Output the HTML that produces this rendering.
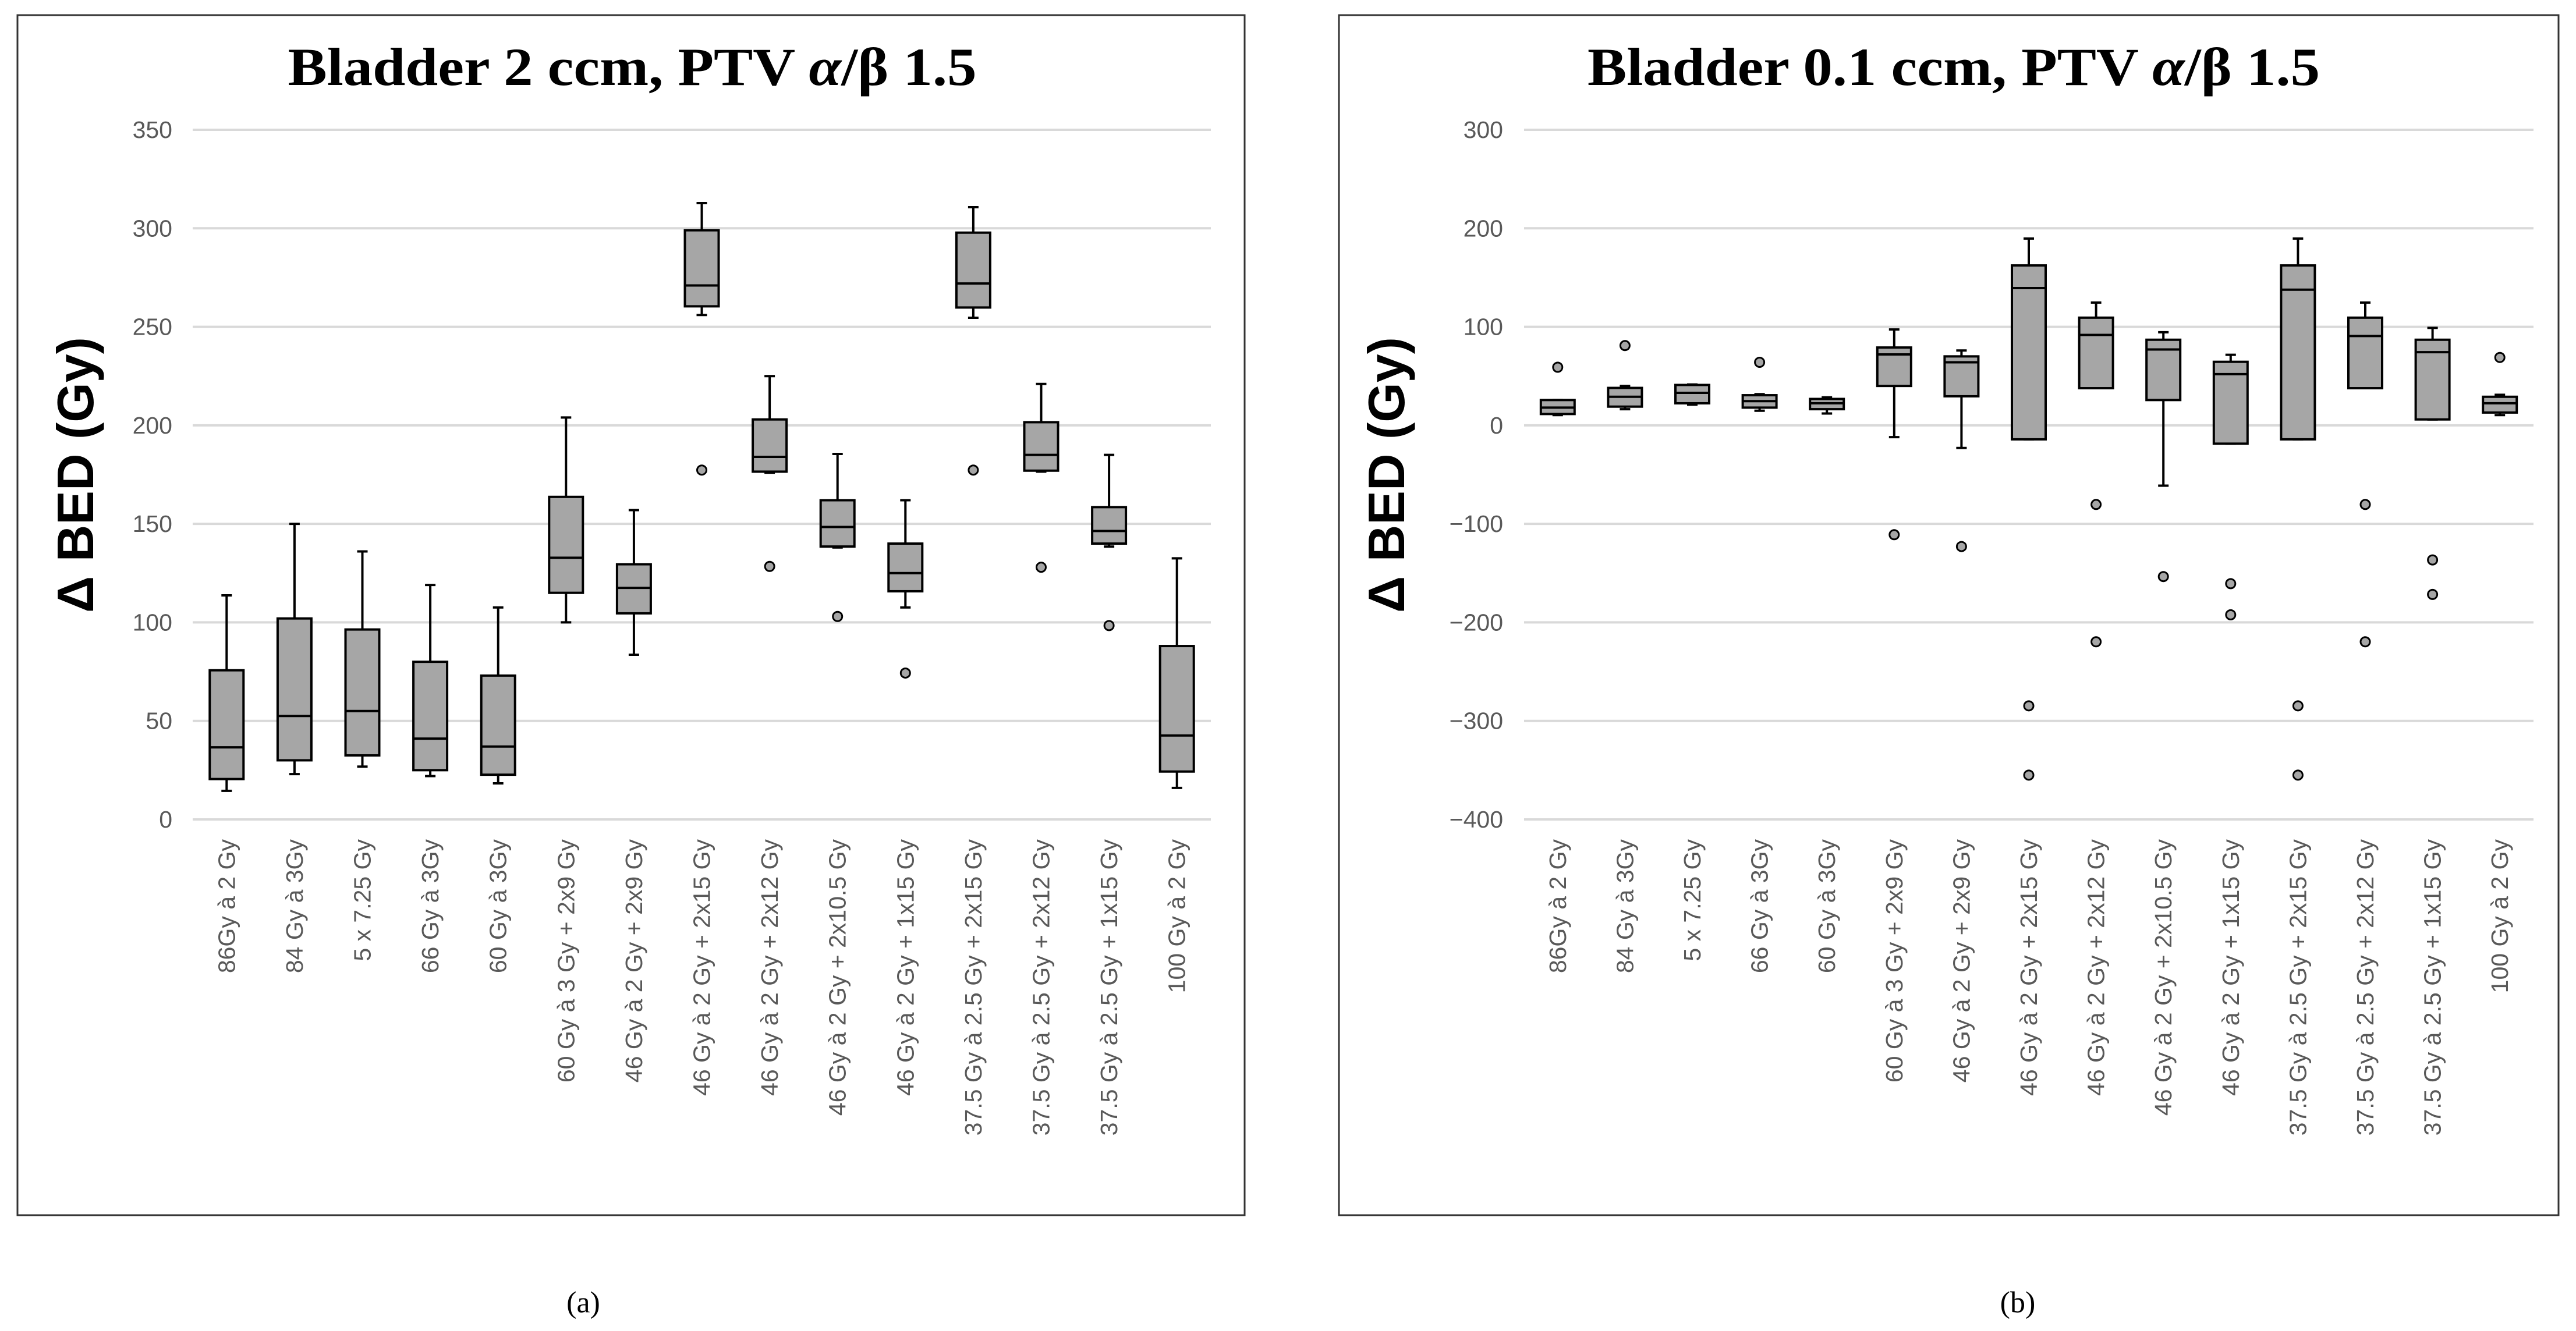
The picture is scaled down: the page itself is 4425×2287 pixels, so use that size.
<!DOCTYPE html>
<html><head><meta charset="utf-8"><style>
html,body{margin:0;padding:0;background:#fff;}
svg{display:block;}
</style></head><body>
<svg id="fig" width="4425" height="2287" xmlns="http://www.w3.org/2000/svg">
<rect x="30" y="26" width="2108" height="2062" fill="#fff" stroke="#333" stroke-width="3"/>
<rect x="2300" y="26" width="2095" height="2062" fill="#fff" stroke="#333" stroke-width="3"/>
<text x="1086" y="146" text-anchor="middle" font-family="Liberation Serif, serif" font-weight="bold" font-size="92" textLength="1183" lengthAdjust="spacingAndGlyphs">Bladder 2 ccm, PTV <tspan font-style="italic">α</tspan>/β 1.5</text>
<text x="3356" y="146" text-anchor="middle" font-family="Liberation Serif, serif" font-weight="bold" font-size="92" textLength="1258" lengthAdjust="spacingAndGlyphs">Bladder 0.1 ccm, PTV <tspan font-style="italic">α</tspan>/β 1.5</text>
<text transform="translate(160,816) rotate(-90)" text-anchor="middle" font-family="Liberation Sans, sans-serif" font-weight="bold" font-size="88">Δ BED (Gy)</text>
<text transform="translate(2412,816) rotate(-90)" text-anchor="middle" font-family="Liberation Sans, sans-serif" font-weight="bold" font-size="88">Δ BED (Gy)</text>
<text x="1002" y="2255" text-anchor="middle" font-family="Liberation Serif, serif" font-size="52">(a)</text>
<text x="3466" y="2255" text-anchor="middle" font-family="Liberation Serif, serif" font-size="52">(b)</text>
<g id="ga"></g><g id="gb"></g>
</svg>
<script>
const categories = ["86Gy à 2 Gy","84 Gy à 3Gy","5 x 7.25 Gy","66 Gy à 3Gy","60 Gy à 3Gy","60 Gy à 3 Gy + 2x9 Gy","46 Gy à 2 Gy + 2x9 Gy","46 Gy à 2 Gy + 2x15 Gy","46 Gy à 2 Gy + 2x12 Gy","46 Gy à 2 Gy + 2x10.5 Gy","46 Gy à 2 Gy + 1x15 Gy","37.5 Gy à 2.5 Gy + 2x15 Gy","37.5 Gy à 2.5 Gy + 2x12 Gy","37.5 Gy à 2.5 Gy + 1x15 Gy","100 Gy à 2 Gy"];
// Chart A (Bladder 2 ccm)
const aMin = [14.5,23,26.8,22,18.3,100,83.6,256,176,138,107.6,254.6,176.5,138.5,16];
const aQ1 = [20.5,30,32.5,25,22.7,115,104.6,260.4,176.5,138.5,115.8,259.8,177,140,24.3];
const aMed = [36.6,52.5,55,41,37,132.8,117.5,271,184,148.4,125,272,185,146.4,42.6];
const aQ3 = [75.7,102,96.4,80,73,163.7,129.5,299,203,162,140,297.8,201.6,158.5,88];
const aMax = [113.7,150,136,119,107.6,204,157,312.8,225,185.5,162,310.7,221,185,132.5];
const aOut = [[],[],[],[],[],[],[],[177.3],[128.4],[103],[74.3],[177.3],[128],[98.4],[]];
const aTicks = [0,50,100,150,200,250,300,350];
// Chart B (Bladder 0.1 ccm)
const bMin = [10.4,16.4,21,14.8,12,-12,-23,-14.2,37.7,-61.2,-18.6,-14.2,37.7,6,10.4];
const bQ1 = [11.5,19,22.4,18,16.4,40,29.5,-14.2,37.7,25.7,-18.6,-14.2,37.7,6,13];
const bMed = [18,29,33,24.6,22.4,72,64,139.3,91.8,77,52,137.7,90.7,74.3,22.4];
const bQ3 = [25.7,38,41,30.6,26.8,79,70,162.3,109.3,86.9,64.5,162.3,109.3,86.9,29];
const bMax = [25.7,40,41.5,31.7,28.4,97.3,76,189.6,124.6,94.5,71.6,189.6,124.6,98.9,31];
const bOut = [[59],[81],[],[64],[],[-111],[-123],[-284.7,-355],[-80.3,-219.7],[-153.5],[-160.7,-192.3],[-284.7,-355],[-80.3,-219.7],[-136.6,-171.6],[68.9]];
const bTicks = [-400,-300,-200,-100,0,100,200,300];

const NS = "http://www.w3.org/2000/svg";
function mk(parent, tag, attrs){const e=document.createElementNS(NS,tag);for(const k in attrs)e.setAttribute(k,attrs[k]);parent.appendChild(e);return e;}

function draw(gid, prefix, x0, x1, yTop, yBot, vMin, vMax, ticks, tickRight, mins, q1s, meds, q3s, maxs, outs){
  const g=document.getElementById(gid);
  const Y=v=>yBot-(v-vMin)/(vMax-vMin)*(yBot-yTop);
  const bw=(x1-x0)/categories.length;
  const X=i=>x0+bw*(i+0.5);
  ticks.forEach(t=>{
    const l=mk(g,'line',{x1:x0,x2:x1,y1:Y(t),y2:Y(t),stroke:'#d9d9d9','stroke-width':4});
    
    
    const tx=mk(g,'text',{x:tickRight,y:Y(t)+14,'text-anchor':'end','font-family':'Liberation Sans, sans-serif','font-size':41,fill:'#595959'});
    tx.textContent=t<0?('\u2212'+Math.abs(t)):String(t);
    
    
  });
  categories.forEach((c,i)=>{
    const cx=X(i), hw=29, cap=9;
    const bg=mk(g,'g',{});
    
    
    mk(bg,'line',{x1:cx,x2:cx,y1:Y(maxs[i]),y2:Y(q3s[i]),stroke:'#000','stroke-width':4});
    mk(bg,'line',{x1:cx,x2:cx,y1:Y(q1s[i]),y2:Y(mins[i]),stroke:'#000','stroke-width':4});
    mk(bg,'line',{x1:cx-cap,x2:cx+cap,y1:Y(maxs[i]),y2:Y(maxs[i]),stroke:'#000','stroke-width':4});
    mk(bg,'line',{x1:cx-cap,x2:cx+cap,y1:Y(mins[i]),y2:Y(mins[i]),stroke:'#000','stroke-width':4});
    mk(bg,'rect',{x:cx-hw,y:Y(q3s[i]),width:hw*2,height:Math.max(1,Y(q1s[i])-Y(q3s[i])),fill:'#a6a6a6',stroke:'#000','stroke-width':4});
    mk(bg,'line',{x1:cx-hw,x2:cx+hw,y1:Y(meds[i]),y2:Y(meds[i]),stroke:'#000','stroke-width':4});
    outs[i].forEach(o=>{
      const c2=mk(g,'circle',{cx:cx,cy:Y(o),r:8,fill:'#a6a6a6',stroke:'#000','stroke-width':3});
      
      
    });
    const lt=mk(g,'text',{transform:'translate('+(cx+14)+',1442) rotate(-90)','text-anchor':'end','font-family':'Liberation Sans, sans-serif','font-size':41,fill:'#595959'});
    lt.textContent=c;
    
    
  });
}
draw('ga','chart-a',331,2080,223,1408,0,350,aTicks,296,aMin,aQ1,aMed,aQ3,aMax,aOut);
draw('gb','chart-b',2618,4352,223,1408,-400,300,bTicks,2582,bMin,bQ1,bMed,bQ3,bMax,bOut);
</script>
</body></html>
